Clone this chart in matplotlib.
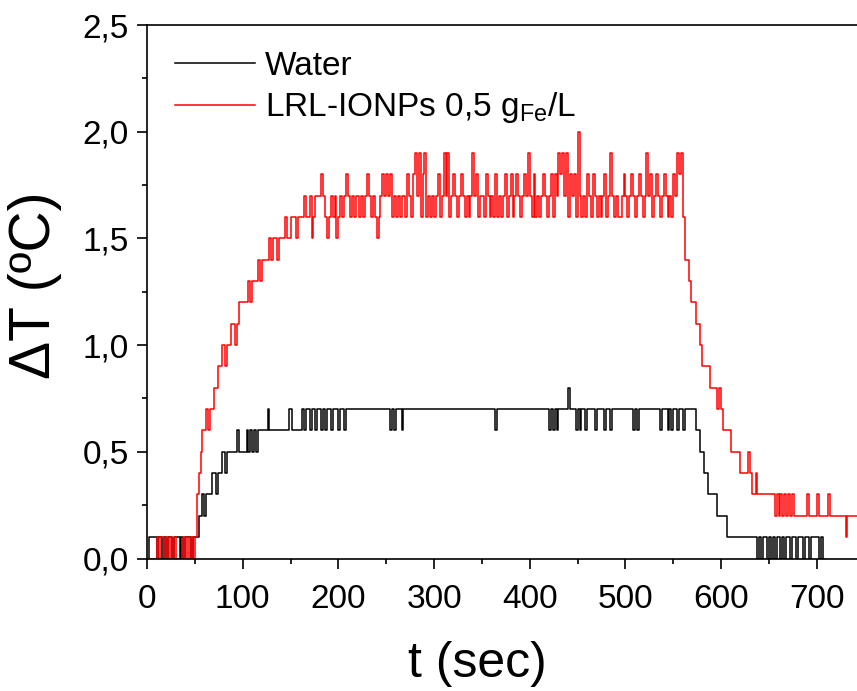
import numpy as np
import matplotlib
matplotlib.use("Agg")
import matplotlib.pyplot as plt
from matplotlib.ticker import MultipleLocator, FuncFormatter

plt.rcParams['font.family'] = ['Liberation Sans', 'DejaVu Sans']
plt.rcParams['mathtext.fontset'] = 'custom'
plt.rcParams['mathtext.rm'] = 'Liberation Sans'
plt.rcParams['mathtext.it'] = 'Liberation Sans:italic'

# temperature increase in tenths of a degree, sampled every 2 s
water_tenths = [
    0, 1, 1, 1, 1, 0, 1, 1, 0, 1,
    0, 1, 1, 0, 1, 1, 1, 0, 1, 0,
    1, 1, 1, 0, 1, 1, 1, 2, 2, 3,
    2, 3, 3, 3, 4, 4, 3, 4, 4, 5,
    5, 4, 5, 5, 5, 5, 5, 6, 5, 5,
    5, 5, 6, 5, 6, 5, 6, 5, 6, 6,
    6, 6, 6, 7, 6, 6, 6, 6, 6, 6,
    6, 6, 6, 6, 7, 7, 6, 6, 6, 6,
    6, 7, 6, 7, 7, 6, 7, 7, 6, 7,
    7, 6, 7, 6, 7, 7, 6, 7, 7, 7,
    6, 7, 7, 6, 7, 7, 7, 7, 7, 7,
    7, 7, 7, 7, 7, 7, 7, 7, 7, 7,
    7, 7, 7, 7, 7, 7, 7, 6, 7, 6,
    7, 7, 7, 6, 7, 7, 7, 7, 7, 7,
    7, 7, 7, 7, 7, 7, 7, 7, 7, 7,
    7, 7, 7, 7, 7, 7, 7, 7, 7, 7,
    7, 7, 7, 7, 7, 7, 7, 7, 7, 7,
    7, 7, 7, 7, 7, 7, 7, 7, 7, 7,
    7, 7, 6, 7, 7, 7, 7, 7, 7, 7,
    7, 7, 7, 7, 7, 7, 7, 7, 7, 7,
    7, 7, 7, 7, 7, 7, 7, 7, 7, 7,
    6, 7, 6, 7, 6, 7, 7, 7, 7, 7,
    8, 7, 7, 7, 6, 7, 6, 7, 7, 6,
    7, 7, 7, 7, 6, 7, 7, 7, 7, 6,
    7, 7, 6, 7, 7, 7, 7, 7, 7, 7,
    7, 7, 7, 7, 6, 7, 6, 7, 7, 7,
    7, 7, 7, 7, 7, 7, 7, 7, 6, 7,
    7, 7, 6, 7, 6, 7, 7, 6, 7, 7,
    6, 7, 7, 7, 7, 7, 7, 6, 6, 5,
    5, 4, 4, 3, 3, 3, 3, 3, 2, 2,
    2, 2, 2, 1, 1, 1, 1, 1, 1, 1,
    1, 1, 1, 1, 1, 1, 1, 1, 1, 0,
    1, 0, 1, 1, 0, 1, 0, 1, 0, 1,
    1, 0, 1, 0, 1, 1, 0, 1, 1, 0,
    1, 1, 1, 0, 1, 1, 0, 1, 1, 1,
    1, 0, 1, 0, 0,
]

ionp_tenths = [
    0, 0, 0, 0, 0, 1, 0, 1, 1, 0,
    1, 0, 1, 0, 1, 0, 0, 0, 0, 1,
    0, 1, 0, 1, 0, 1, 3, 4, 5, 6,
    6, 7, 6, 7, 7, 8, 8, 9, 9, 10,
    10, 9, 10, 10, 11, 11, 10, 11, 12, 12,
    12, 12, 12, 13, 12, 13, 13, 13, 14, 13,
    14, 14, 14, 14, 15, 14, 15, 15, 14, 15,
    15, 15, 16, 15, 15, 16, 16, 16, 15, 16,
    16, 16, 17, 16, 16, 17, 15, 16, 17, 17,
    17, 18, 17, 16, 15, 16, 17, 16, 17, 15,
    16, 17, 16, 17, 18, 17, 16, 17, 16, 17,
    17, 16, 17, 16, 17, 18, 17, 16, 17, 16,
    15, 16, 17, 18, 17, 18, 17, 18, 16, 17,
    16, 17, 16, 17, 17, 16, 18, 17, 16, 18,
    19, 17, 19, 16, 18, 19, 16, 17, 16, 17,
    16, 17, 18, 16, 17, 19, 17, 19, 16, 17,
    18, 17, 16, 17, 18, 17, 16, 17, 16, 17,
    19, 17, 18, 16, 17, 17, 16, 18, 17, 16,
    17, 16, 18, 16, 17, 16, 17, 18, 16, 17,
    18, 16, 17, 18, 17, 16, 17, 18, 17, 19,
    17, 16, 18, 16, 17, 16, 17, 18, 17, 16,
    17, 18, 16, 18, 17, 19, 18, 19, 17, 19,
    16, 18, 17, 18, 16, 20, 17, 16, 17, 16,
    18, 17, 16, 18, 17, 16, 17, 16, 17, 18,
    16, 17, 19, 17, 16, 17, 16, 16, 17, 18,
    17, 16, 17, 18, 17, 16, 17, 18, 17, 16,
    17, 19, 17, 18, 16, 17, 18, 17, 16, 17,
    18, 17, 16, 17, 16, 18, 17, 19, 18, 19,
    16, 14, 14, 13, 12, 12, 12, 11, 11, 10,
    9, 9, 9, 9, 8, 8, 8, 8, 7, 8,
    7, 6, 6, 6, 6, 5, 5, 5, 5, 5,
    4, 4, 4, 4, 5, 4, 3, 3, 4, 3,
    3, 3, 3, 3, 3, 3, 3, 3, 2, 3,
    2, 3, 2, 3, 2, 3, 2, 3, 2, 2,
    2, 2, 2, 2, 2, 3, 2, 2, 2, 2,
    3, 2, 2, 2, 2, 2, 3, 2, 2, 2,
    2, 2, 2, 2, 2, 1, 2, 2, 2, 2,
    2, 2,
]

t_water = np.arange(0, 2 * len(water_tenths), 2)
t_ionp = np.arange(0, 2 * len(ionp_tenths), 2)
water = np.array(water_tenths) / 10.0
ionp = np.array(ionp_tenths) / 10.0

fig = plt.figure(figsize=(8.57, 6.91), dpi=100)
ax = fig.add_axes([147 / 857, 132.5 / 691, 710 / 857, 533.5 / 691])

ax.plot(t_water, water, color='black', lw=1.1, drawstyle='steps-post', label='Water')
ax.plot(t_ionp, ionp, color='#ff0000', lw=1.1, drawstyle='steps-post',
        label=r'LRL-IONPs 0,5 g$_{\mathrm{Fe}}$/L')

ax.set_xlim(0, 742)
ax.set_ylim(0, 2.5)
ax.xaxis.set_major_locator(MultipleLocator(100))
ax.xaxis.set_minor_locator(MultipleLocator(50))
ax.yaxis.set_major_locator(MultipleLocator(0.5))
ax.yaxis.set_minor_locator(MultipleLocator(0.25))
ax.yaxis.set_major_formatter(FuncFormatter(lambda v, p: f"{v:.1f}".replace('.', ',')))

ax.spines['right'].set_visible(False)
for s in ['left', 'bottom', 'top']:
    ax.spines[s].set_linewidth(1.2)
ax.tick_params(which='major', direction='out', length=7, width=1.2, labelsize=24, pad=6)
ax.tick_params(axis='x', which='major', pad=11)
ax.tick_params(which='minor', direction='out', length=3.6, width=1.2)
ax.tick_params(top=False, right=False, which='both')

ax.set_xlabel('t (sec)', fontsize=36)
ax.xaxis.set_label_coords(0.465, -0.155)
ax.set_ylabel('ΔT (ºC)', fontsize=41)
ax.yaxis.set_label_coords(-0.12, 0.513)

ax.legend(loc='upper left', bbox_to_anchor=(0.025, 0.97), frameon=False, fontsize=24,
          handlelength=2.4, handletextpad=0.3, labelspacing=0.25, borderpad=0.3,
          borderaxespad=0)

fig.savefig('out.png', dpi=100)
